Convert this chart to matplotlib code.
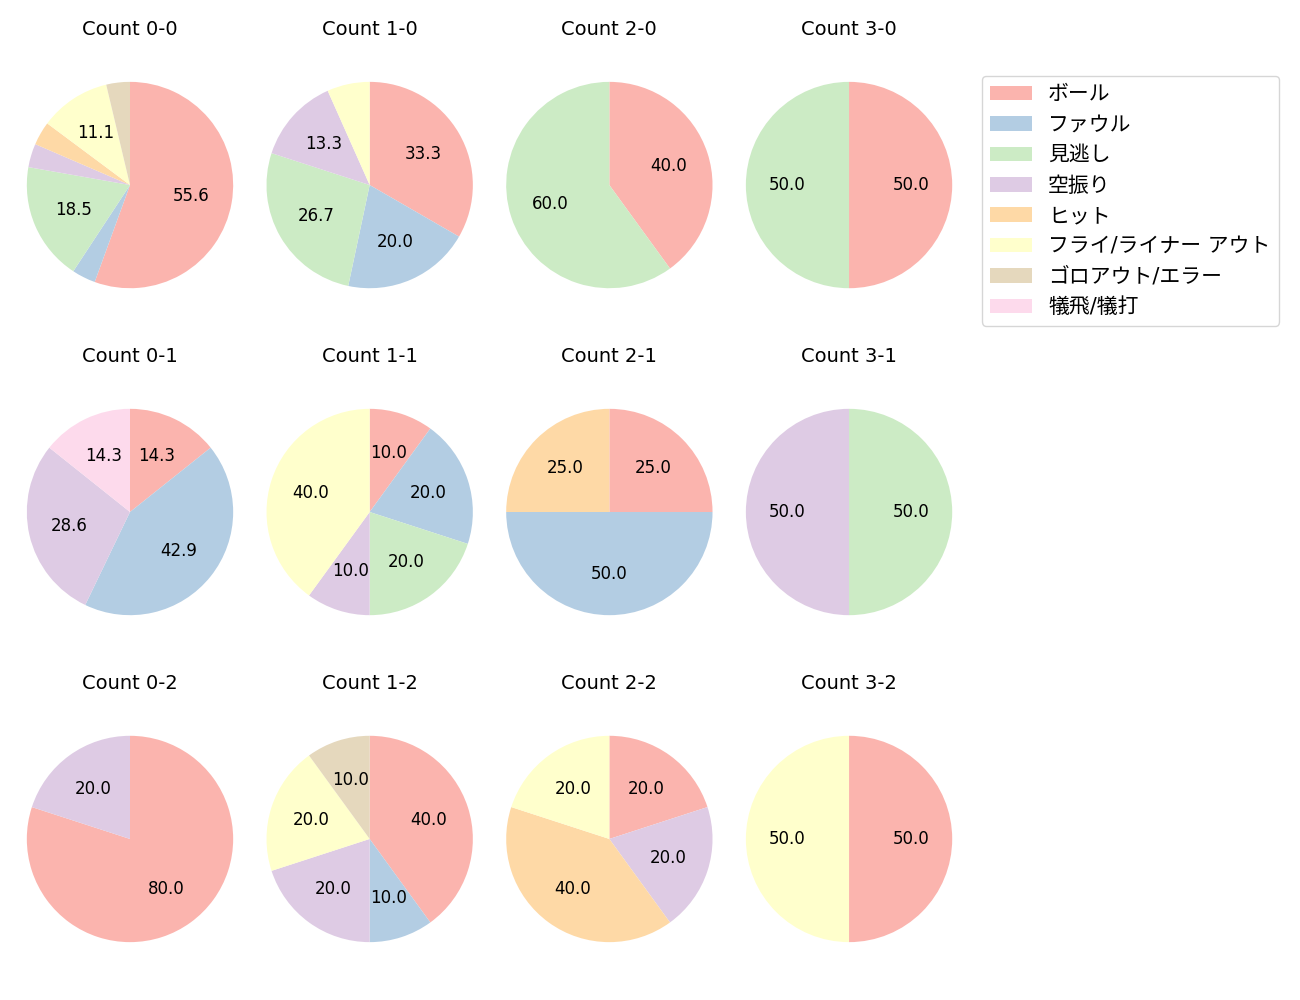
import matplotlib
matplotlib.use("Agg")
import matplotlib.pyplot as plt
from matplotlib.patches import Patch

plt.rcParams['font.family'] = ['DejaVu Sans', 'Noto Sans CJK JP']

categories = ['ボール', 'ファウル', '見逃し', '空振り', 'ヒット',
              'フライ/ライナー アウト', 'ゴロアウト/エラー', '犠飛/犠打']
colors = plt.get_cmap('Pastel1').colors[:8]

count_labels = ['0-0', '1-0', '2-0', '3-0',
                '0-1', '1-1', '2-1', '3-1',
                '0-2', '1-2', '2-2', '3-2']

# counts per category, in category order
c_0_0 = [15, 1, 5, 1, 1, 3, 1, 0]
c_1_0 = [5, 3, 4, 2, 0, 1, 0, 0]
c_2_0 = [2, 0, 3, 0, 0, 0, 0, 0]
c_3_0 = [1, 0, 1, 0, 0, 0, 0, 0]
c_0_1 = [1, 3, 0, 2, 0, 0, 0, 1]
c_1_1 = [1, 2, 2, 1, 0, 4, 0, 0]
c_2_1 = [1, 2, 0, 0, 1, 0, 0, 0]
c_3_1 = [0, 0, 1, 1, 0, 0, 0, 0]
c_0_2 = [4, 0, 0, 1, 0, 0, 0, 0]
c_1_2 = [4, 1, 0, 2, 0, 2, 1, 0]
c_2_2 = [1, 0, 0, 1, 2, 1, 0, 0]
c_3_2 = [1, 0, 0, 0, 0, 1, 0, 0]

data = [c_0_0, c_1_0, c_2_0, c_3_0,
        c_0_1, c_1_1, c_2_1, c_3_1,
        c_0_2, c_1_2, c_2_2, c_3_2]

fig, axes = plt.subplots(3, 4, figsize=(13, 10), dpi=100)
fig.subplots_adjust(left=0.0127, right=0.7404, top=0.957, bottom=0.019,
                    wspace=0.056, hspace=0.151)

def fmt(p):
    return f'{p:.1f}' if p >= 9.5 else ''

for ax, lab, vals in zip(axes.flat, count_labels, data):
    v = [x for x in vals if x > 0]
    c = [colors[i] for i, x in enumerate(vals) if x > 0]
    ax.pie(v, colors=c, startangle=90, counterclock=False, autopct=fmt,
           textprops={'fontsize': 12})
    ax.axis('equal')
    ax.set_title(f'Count {lab}', fontsize=14)

handles = [Patch(facecolor=colors[i], label=categories[i]) for i in range(8)]
fig.legend(handles=handles, loc='upper left', bbox_to_anchor=(0.755, 0.924),
           fontsize=15, borderaxespad=0)

fig.savefig('out.png', dpi=100)
